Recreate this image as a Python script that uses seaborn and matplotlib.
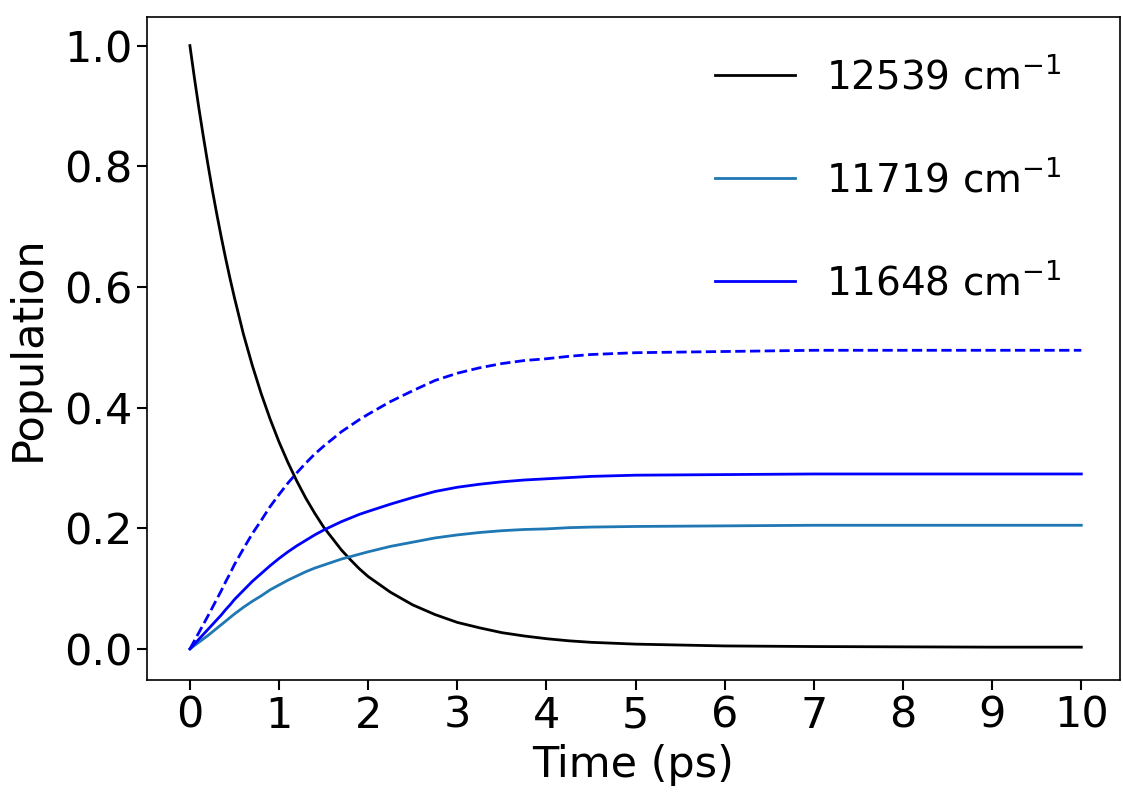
import matplotlib
matplotlib.use("Agg")
import matplotlib.pyplot as plt
import seaborn as sns
import pandas as pd

# Data
time_ps = [0, 0.05, 0.1, 0.15, 0.2, 0.25, 0.3, 0.35, 0.4, 0.45, 0.5, 0.6, 0.7,
           0.8, 0.9, 1.0, 1.1, 1.2, 1.3, 1.4, 1.5, 1.6, 1.7, 1.8, 1.9, 2.0,
           2.25, 2.5, 2.75, 3.0, 3.25, 3.5, 3.75, 4.0, 4.25, 4.5, 5.0, 5.5,
           6.0, 7.0, 8.0, 9.0, 10.0]
pop_12539 = [1.000, 0.947, 0.897, 0.850, 0.805, 0.762, 0.722, 0.684, 0.648,
             0.614, 0.582, 0.522, 0.470, 0.423, 0.381, 0.343, 0.309, 0.278,
             0.250, 0.225, 0.202, 0.183, 0.164, 0.148, 0.133, 0.120, 0.094,
             0.073, 0.057, 0.044, 0.035, 0.027, 0.0215, 0.017, 0.0135, 0.011,
             0.008, 0.0065, 0.005, 0.004, 0.0035, 0.003, 0.003]
pop_11719 = [0.0, 0.0055, 0.011, 0.0165, 0.022, 0.028, 0.034, 0.040, 0.046,
             0.052, 0.058, 0.069, 0.079, 0.088, 0.098, 0.106, 0.114, 0.121,
             0.128, 0.134, 0.139, 0.144, 0.149, 0.153, 0.157, 0.161, 0.170,
             0.177, 0.184, 0.189, 0.193, 0.196, 0.198, 0.199, 0.201, 0.202,
             0.203, 0.2035, 0.204, 0.205, 0.205, 0.205, 0.205]
pop_11648 = [0.0, 0.008, 0.016, 0.024, 0.032, 0.040, 0.048, 0.056, 0.065,
             0.073, 0.082, 0.097, 0.112, 0.125, 0.138, 0.150, 0.161, 0.171,
             0.180, 0.189, 0.197, 0.204, 0.211, 0.217, 0.223, 0.228, 0.240,
             0.251, 0.261, 0.268, 0.273, 0.277, 0.280, 0.282, 0.284, 0.286,
             0.288, 0.2885, 0.289, 0.290, 0.290, 0.290, 0.290]
pop_sum = [0.0, 0.0135, 0.027, 0.0405, 0.054, 0.068, 0.082, 0.096, 0.111,
           0.125, 0.140, 0.166, 0.191, 0.213, 0.236, 0.256, 0.275, 0.292,
           0.308, 0.323, 0.336, 0.348, 0.360, 0.370, 0.380, 0.389, 0.410,
           0.428, 0.445, 0.457, 0.466, 0.473, 0.478, 0.481, 0.485, 0.488,
           0.491, 0.492, 0.493, 0.495, 0.495, 0.495, 0.495]
labels = ["12539 cm$^{-1}$", "11719 cm$^{-1}$", "11648 cm$^{-1}$"]
x_ticks = list(range(0, 11))
y_ticks = [0.0, 0.2, 0.4, 0.6, 0.8, 1.0]

plt.rcParams["font.family"] = ["DejaVu Sans"]
FS = 31
LFS = 28

fig = plt.figure(figsize=(11.23, 7.92), dpi=100)
ax = fig.add_axes([0.131, 0.141, 0.866, 0.838])

df = pd.DataFrame({"t": time_ps, "a": pop_12539, "b": pop_11719,
                   "c": pop_11648, "s": pop_sum})

sns.lineplot(data=df, x="t", y="a", ax=ax, color="black", lw=2, label=labels[0])
sns.lineplot(data=df, x="t", y="b", ax=ax, color="#1f77b4", lw=2, label=labels[1])
sns.lineplot(data=df, x="t", y="c", ax=ax, color="#0000ff", lw=2, label=labels[2])
sns.lineplot(data=df, x="t", y="s", ax=ax, color="#0000ff", lw=2,
             linestyle="--", dashes=(4.5, 2.3), legend=False)

ax.set_xticks(x_ticks)
ax.set_yticks(y_ticks)
ax.set_xlim(-0.48, 10.43)
ax.set_ylim(-0.052, 1.048)
ax.tick_params(labelsize=FS, length=7, width=1.5)
ax.set_xlabel("Time (ps)", fontsize=FS, labelpad=5)
ax.set_ylabel("Population", fontsize=FS, labelpad=11)
for s in ax.spines.values():
    s.set_linewidth(1.2)

ax.legend(loc="upper right", bbox_to_anchor=(0.956, 0.962), frameon=False,
          fontsize=LFS, labelspacing=1.65, handlelength=2.05, handletextpad=0.8,
          borderaxespad=0.0)

fig.savefig("out.png", dpi=100)
